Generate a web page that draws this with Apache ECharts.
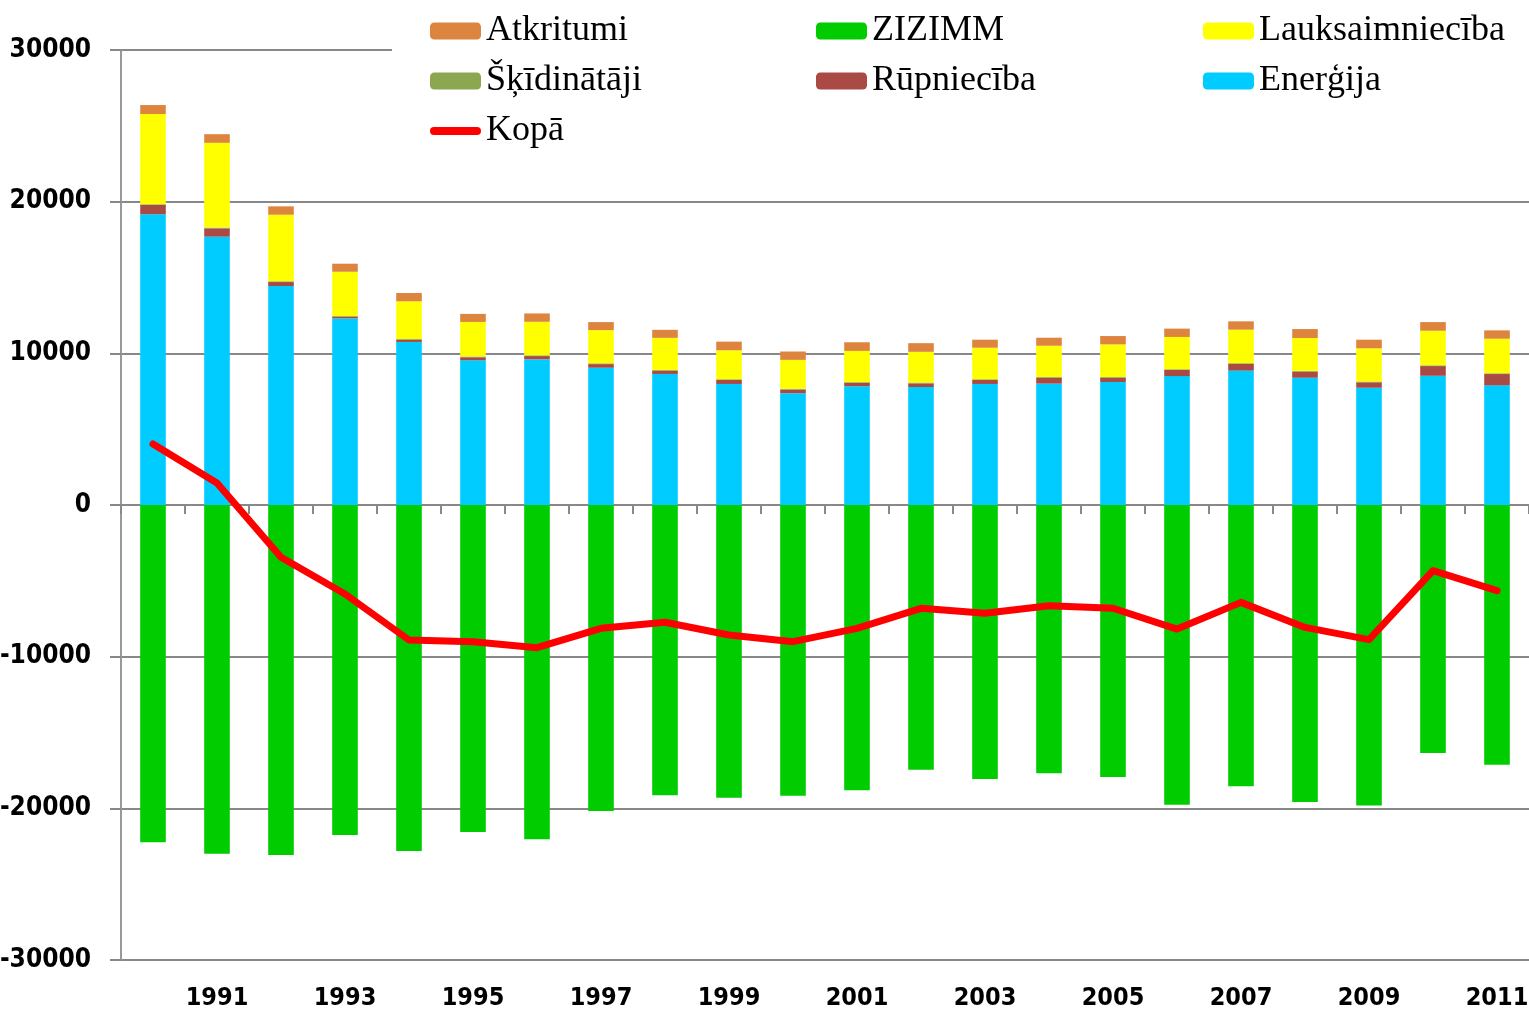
<!DOCTYPE html>
<html>
<head>
<meta charset="utf-8">
<title>Emisijas</title>
<script src="https://cdn.jsdelivr.net/npm/echarts@6/dist/echarts.min.js"></script>
<style>
  html, body { margin: 0; padding: 0; background: #fff; }
  #main { width: 1529px; height: 1014px; }
</style>
</head>
<body>
<div id="main"></div>
<script>
// dati
var years = ['1990', '1991', '1992', '1993', '1994', '1995', '1996', '1997', '1998', '1999', '2000',
  '2001', '2002', '2003', '2004', '2005', '2006', '2007', '2008', '2009', '2010', '2011'];
var energija = [19170, 17690, 14440, 12300, 10750, 9540, 9600, 9050, 8640, 7980, 7370,
  7830, 7780, 7980, 8000, 8110, 8500, 8860, 8390, 7730, 8520, 7890];
var rupnieciba = [610, 550, 260, 110, 150, 200, 220, 240, 220, 260, 240,
  220, 240, 260, 390, 280, 400, 440, 400, 360, 640, 745];
var skidinataji = [50, 50, 50, 50, 50, 50, 50, 50, 50, 50, 50,
  50, 50, 50, 50, 50, 50, 50, 50, 50, 50, 50];
var lauksaimnieciba = [5950, 5590, 4390, 2920, 2480, 2280, 2210, 2190, 2110, 1910, 1910,
  2060, 2030, 2080, 2060, 2150, 2130, 2210, 2170, 2190, 2280, 2280];
var atkritumi = [590, 570, 550, 530, 550, 530, 550, 530, 530, 570, 550,
  570, 570, 530, 530, 550, 550, 550, 590, 570, 570, 550];
var zizimm = [-22240, -22990, -23080, -21760, -22810, -21560, -22040, -20180, -19140, -19300, -19170,
  -18810, -17450, -18070, -17690, -17930, -19760, -18550, -19580, -19820, -16350, -17120];
var kopa = [4020, 1450, -3450, -5870, -8900, -9010, -9410, -8130, -7730, -8570, -9010,
  -8130, -6810, -7140, -6640, -6810, -8180, -6420, -8070, -8880, -4330, -5650];
var yTicks = [-30000, 30000, 10000]; // min, max, solis

var chart = echarts.init(document.getElementById('main'));

var narrow = "'Liberation Sans Narrow', 'Arial Narrow', 'DejaVu Sans Condensed', sans-serif";
var legendText = { fontFamily: "'Liberation Serif', 'Times New Roman', serif", fontSize: 36, color: '#000', lineHeight: 40 };
var lineIcon = 'path://M4,0 L47,0 A4,4 0 0 1 47,8 L4,8 A4,4 0 0 1 4,0 Z';

function legendCol(left, names) {
  return {
    orient: 'vertical',
    left: left,
    top: 11,
    itemWidth: 51,
    itemHeight: 17,
    itemGap: 10,
    padding: 0,
    textStyle: legendText,
    data: names
  };
}

function barSeries(name, data, color) {
  return {
    name: name,
    type: 'bar',
    stack: 'kopa',
    barWidth: '40%',
    itemStyle: { color: color },
    data: data
  };
}

var option = {
  backgroundColor: '#fff',
  animation: false,
  grid: { left: 121, right: 0, top: 50, bottom: 54, outerBoundsMode: 'none', containLabel: false },
  // balts laukums zem leģendas
  graphic: [{
    type: 'rect',
    left: 392, top: 0, z: 1,
    shape: { width: 1137, height: 150 },
    style: { fill: '#fff' }
  }],
  legend: [
    legendCol(430, ['Atkritumi', 'Šķīdinātāji', { name: 'Kopā', icon: lineIcon }]),
    legendCol(816, ['ZIZIMM', 'Rūpniecība']),
    legendCol(1203, ['Lauksaimniecība', 'Enerģija'])
  ],
  xAxis: [{
    type: 'category',
    data: years,
    position: 'bottom',
    axisLine: { show: false, onZero: false },
    axisTick: { show: false },
    axisLabel: {
      interval: function (i) { return i % 2 === 1; },
      margin: 26,
      fontFamily: narrow,
      fontWeight: 'bold',
      fontSize: 25,
      color: '#000'
    }
  }, {
    type: 'category',
    data: years,
    position: 'bottom',
    axisLine: { show: true, onZero: true, lineStyle: { color: '#888', width: 2 } },
    axisTick: { show: true, length: 9, lineStyle: { color: '#888', width: 2 } },
    axisLabel: { show: false }
  }],
  yAxis: {
    type: 'value',
    min: yTicks[0],
    max: yTicks[1],
    interval: yTicks[2],
    axisLine: { show: true, lineStyle: { color: '#999', width: 2 } },
    axisTick: { show: true, length: 11, lineStyle: { color: '#888', width: 2 } },
    splitLine: { lineStyle: { color: '#888', width: 2 } },
    axisLabel: {
      margin: 30,
      formatter: function (v) { return String(v); },
      fontFamily: narrow,
      fontWeight: 'bold',
      fontSize: 26,
      color: '#000'
    }
  },
  series: [
    barSeries('Enerģija', energija, '#00CCFF'),
    barSeries('Rūpniecība', rupnieciba, '#AA4A45'),
    barSeries('Šķīdinātāji', skidinataji, '#8BA850'),
    barSeries('Lauksaimniecība', lauksaimnieciba, '#FFFF00'),
    barSeries('Atkritumi', atkritumi, '#DD843F'),
    barSeries('ZIZIMM', zizimm, '#00CC00'),
    {
      name: 'Kopā',
      type: 'line',
      z: 10,
      symbol: 'none',
      itemStyle: { color: '#FF0000' },
      lineStyle: { color: '#FF0000', width: 7, cap: 'round', join: 'round' },
      data: kopa
    }
  ]
};

chart.setOption(option);
</script>
</body>
</html>
